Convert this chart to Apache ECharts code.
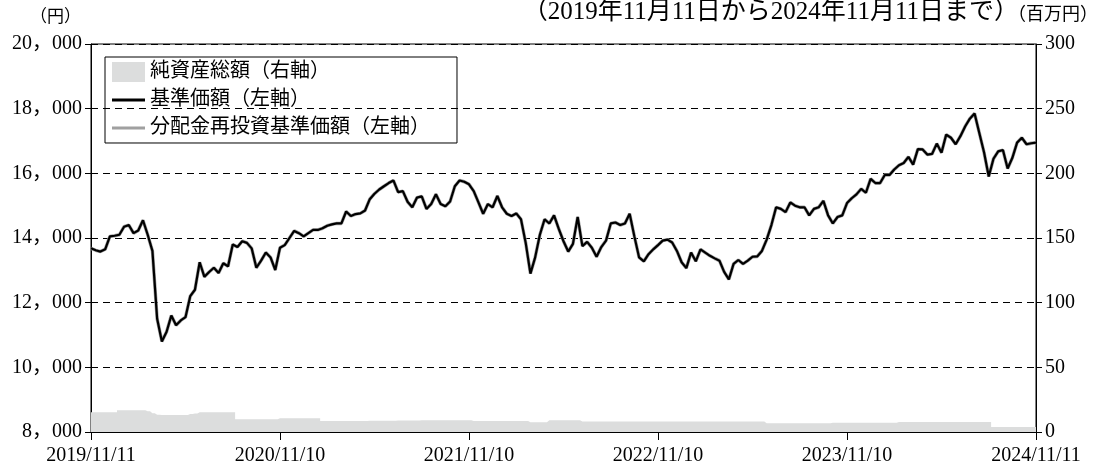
<!DOCTYPE html>
<html>
<head>
<meta charset="utf-8">
<script src="https://cdn.jsdelivr.net/npm/echarts@6/dist/echarts.min.js"></script>
<style>
  html, body { margin: 0; padding: 0; background: #fff; }
  #chart { width: 1117px; height: 468px; }
</style>
</head>
<body>
<div id="chart"></div>
<script>
// 目盛りラベル（横軸は5等分）
const tickLabels = ['2019/11/11', '2020/11/10', '2021/11/10', '2022/11/10', '2023/11/10', '2024/11/11'];

// 基準価額（円）: 画像から読み取った約週次の値 201点
const navValues = [
  13680, 13620, 13580, 13650, 14050, 14070, 14100, 14350, 14400, 14150,
  14230, 14550, 14100, 13600, 11500, 10800, 11100, 11600, 11300, 11450,
  11550, 12200, 12400, 13250, 12800, 12950, 13080, 12920, 13220, 13120,
  13800, 13720, 13900, 13850, 13680, 13080, 13300, 13550, 13400, 13010,
  13700, 13780, 14000, 14220, 14150, 14050, 14150, 14250, 14250, 14300,
  14380, 14420, 14450, 14450, 14820, 14680, 14740, 14760, 14850, 15200,
  15370, 15500, 15600, 15700, 15780, 15420, 15450, 15120, 14950, 15250,
  15290, 14900, 15050, 15350, 15050, 14980, 15130, 15600, 15780, 15740,
  15660, 15450, 15100, 14750, 15050, 14950, 15300, 14950, 14750, 14680,
  14760, 14580, 13850, 12900, 13400, 14100, 14580, 14450, 14700, 14280,
  13900, 13580, 13820, 14650, 13750, 13880, 13700, 13420, 13720, 13920,
  14450, 14480, 14400, 14450, 14750, 14050, 13400, 13280, 13500, 13650,
  13780, 13920, 13950, 13860, 13600, 13250, 13070, 13550, 13280, 13650,
  13550, 13450, 13370, 13300, 12950, 12720, 13200, 13320, 13200, 13300,
  13420, 13430, 13600, 13950, 14400, 14950, 14900, 14800, 15100, 15000,
  14950, 14950, 14700, 14900, 14950, 15150, 14700, 14450, 14650, 14700,
  15080, 15230, 15350, 15520, 15400, 15830, 15700, 15700, 15950, 15950,
  16120, 16250, 16320, 16510, 16270, 16750, 16740, 16580, 16600, 16920,
  16640, 17200, 17100, 16900, 17150, 17450, 17690, 17850, 17250, 16650,
  15900, 16450, 16680, 16720, 16150, 16480, 16950, 17100, 16900, 16930, 16950
];

// 分配金再投資基準価額（円）: 画像上は基準価額とほぼ重なっている
const reinvestValues = navValues.slice();

// 純資産総額（百万円）
const netAssetValues = [
  15.2, 15.2, 15.2, 15.2, 15.2, 15.2, 16.8, 16.8, 16.8, 16.8,
  16.8, 16.8, 16.0, 14.5, 13.3, 13.1, 13.1, 13.1, 13.1, 13.1,
  13.1, 14.0, 14.4, 15.2, 15.2, 15.2, 15.2, 15.2, 15.2, 15.2,
  15.2, 9.8, 9.8, 9.8, 9.8, 9.8, 9.8, 9.8, 9.8, 9.8,
  10.6, 10.6, 10.6, 10.6, 10.6, 10.6, 10.6, 10.6, 10.6, 8.5,
  8.5, 8.5, 8.6, 8.6, 8.6, 8.6, 8.6, 8.6, 8.6, 8.7,
  8.7, 8.7, 8.7, 8.7, 8.7, 8.8, 8.8, 8.8, 8.8, 8.8,
  9.0, 9.0, 9.0, 9.0, 9.0, 9.0, 9.0, 9.0, 9.0, 9.0,
  9.0, 8.5, 8.5, 8.5, 8.5, 8.5, 8.5, 8.5, 8.5, 8.5,
  8.5, 8.5, 8.5, 7.5, 7.5, 7.5, 7.5, 9.0, 9.0, 9.0,
  9.0, 9.0, 9.0, 9.0, 8.2, 8.2, 8.2, 8.2, 8.2, 8.2,
  8.2, 8.2, 8.2, 8.2, 8.2, 8.2, 8.2, 8.2, 8.2, 8.2,
  8.2, 8.2, 8.2, 8.2, 8.2, 8.2, 8.2, 8.2, 8.2, 8.2,
  8.2, 8.2, 8.2, 8.2, 8.2, 8.2, 8.2, 8.2, 8.2, 8.2,
  8.2, 8.2, 8.2, 6.7, 6.7, 6.7, 6.7, 6.7, 6.7, 6.7,
  6.7, 6.7, 6.7, 6.7, 6.7, 6.7, 6.7, 7.2, 7.2, 7.2,
  7.2, 7.2, 7.2, 7.2, 7.2, 7.2, 7.2, 7.2, 7.2, 7.2,
  7.2, 7.7, 7.7, 7.7, 7.7, 7.7, 7.7, 7.7, 7.7, 7.7,
  7.7, 7.7, 7.7, 7.7, 7.7, 7.7, 7.7, 7.7, 7.7, 7.7,
  7.7, 3.9, 3.9, 3.9, 3.9, 3.9, 3.9, 3.9, 3.9, 3.9, 3.9
];

const FONT = "'Liberation Serif', 'Noto Sans CJK JP', serif";
const toPairs = arr => arr.map((v, i) => [i, v]);

const chart = echarts.init(document.getElementById('chart'));
chart.setOption({
  animation: false,
  backgroundColor: '#fff',
  textStyle: { fontFamily: FONT, color: '#000' },
  grid: {
    left: 91, right: 81, top: 44, bottom: 36,
    show: true, borderColor: '#000', borderWidth: 1
  },
  legend: {
    orient: 'vertical',
    left: 105, top: 57,
    borderColor: '#000', borderWidth: 1,
    padding: [5, 27, 5, 7],
    itemGap: 8,
    itemWidth: 33, itemHeight: 20,
    textStyle: { fontFamily: FONT, fontSize: 20, color: '#000' },
    data: [
      { name: '純資産総額（右軸）', icon: 'rect' },
      { name: '基準価額（左軸）', icon: 'path://M0,0H33V3H0Z' },
      { name: '分配金再投資基準価額（左軸）', icon: 'path://M0,0H33V3H0Z' }
    ]
  },
  graphic: [
    { type: 'text', left: 30, top: 9, style: { text: '（円）', font: "17px " + FONT, fill: '#000' } },
    { type: 'text', right: 98, top: 0, style: { text: '（2019年11月11日から2024年11月11日まで）', font: "25px " + FONT, fill: '#000' } },
    { type: 'text', left: 1008, top: 6, style: { text: '（百万円）', font: "18px " + FONT, fill: '#000' } }
  ],
  xAxis: {
    type: 'value',
    min: 0, max: 200, interval: 40,
    axisLine: { lineStyle: { color: '#000', width: 1 } },
    axisTick: { length: 8, lineStyle: { color: '#000' } },
    axisLabel: {
      color: '#000', fontFamily: FONT, fontSize: 20, margin: 14,
      showMinLabel: true, showMaxLabel: true,
      formatter: v => tickLabels[v / 40]
    },
    splitLine: { show: false }
  },
  yAxis: [
    {
      type: 'value', position: 'left',
      min: 8000, max: 20000, interval: 2000,
      axisLine: { show: true, lineStyle: { color: '#000' } },
      axisTick: { show: true, length: 6, lineStyle: { color: '#000' } },
      axisLabel: {
        color: '#000', fontFamily: FONT, fontSize: 20, margin: 9,
        formatter: v => String(v).replace(/(\d+)(\d{3})$/, '$1，$2')
      },
      splitLine: { show: true, lineStyle: { color: '#000', type: [7, 5], width: 1 } }
    },
    {
      type: 'value', position: 'right',
      min: 0, max: 300, interval: 50,
      axisLine: { show: true, lineStyle: { color: '#000' } },
      axisTick: { show: true, length: 6, lineStyle: { color: '#000' } },
      axisLabel: { color: '#000', fontFamily: FONT, fontSize: 20, margin: 9 },
      splitLine: { show: false }
    }
  ],
  series: [
    {
      name: '純資産総額（右軸）',
      type: 'line',
      yAxisIndex: 1,
      step: 'middle',
      symbol: 'none',
      color: '#dcdddd',
      lineStyle: { width: 0 },
      areaStyle: { color: '#dcdddd', opacity: 1 },
      data: toPairs(netAssetValues),
      z: 1
    },
    {
      name: '分配金再投資基準価額（左軸）',
      type: 'line',
      symbol: 'none',
      color: '#a0a0a0',
      lineStyle: { width: 3.4, color: '#a0a0a0' },
      data: toPairs(reinvestValues),
      z: 2
    },
    {
      name: '基準価額（左軸）',
      type: 'line',
      symbol: 'none',
      color: '#000',
      lineStyle: { width: 2.2, color: '#000' },
      data: toPairs(navValues),
      z: 3
    }
  ]
});
</script>
</body>
</html>
